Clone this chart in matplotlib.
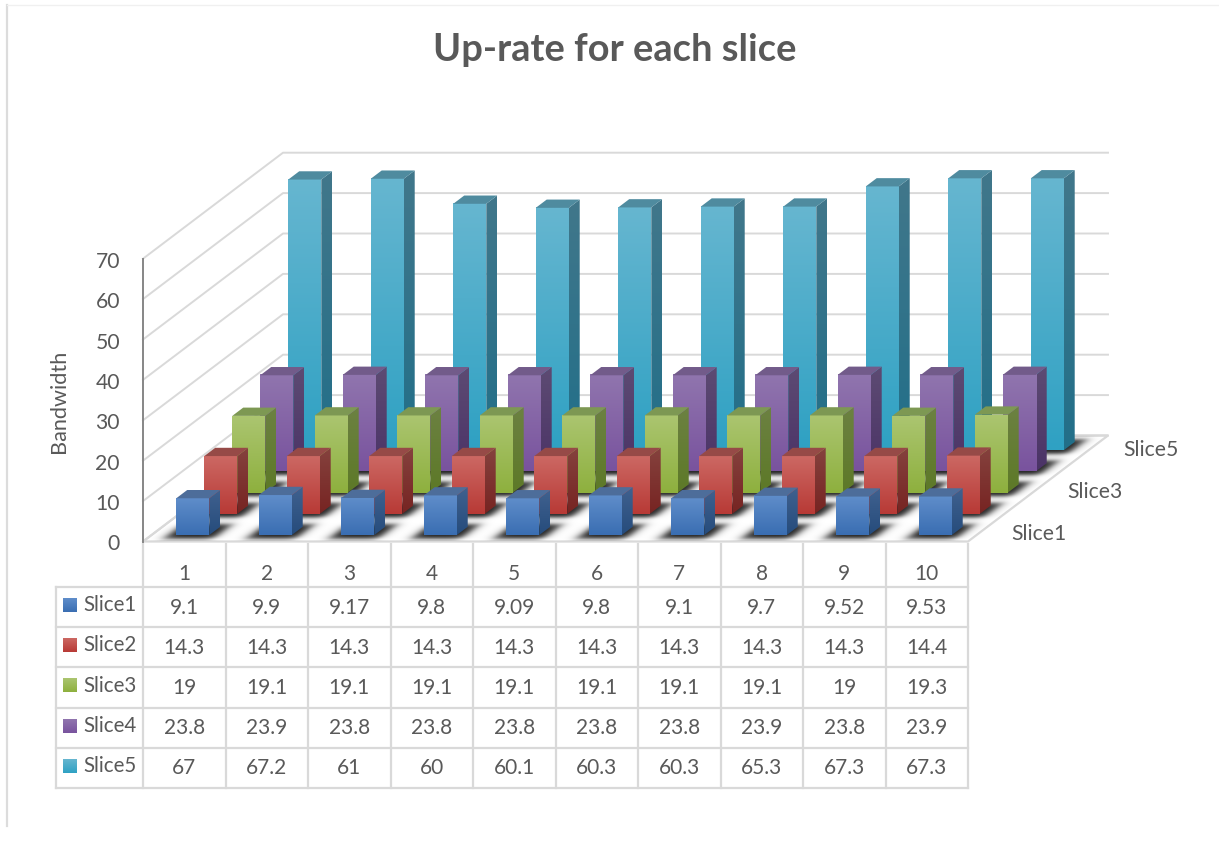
import matplotlib
matplotlib.use('Agg')
import matplotlib.pyplot as plt
from matplotlib.colors import to_rgb
from matplotlib.patches import Polygon
import numpy as np

plt.rcParams['font.family'] = ['Lato', 'DejaVu Sans']

columns = [1, 2, 3, 4, 5, 6, 7, 8, 9, 10]
slice1 = [9.1, 9.9, 9.17, 9.8, 9.09, 9.8, 9.1, 9.7, 9.52, 9.53]
slice2 = [14.3, 14.3, 14.3, 14.3, 14.3, 14.3, 14.3, 14.3, 14.3, 14.4]
slice3 = [19, 19.1, 19.1, 19.1, 19.1, 19.1, 19.1, 19.1, 19, 19.3]
slice4 = [23.8, 23.9, 23.8, 23.8, 23.8, 23.8, 23.8, 23.9, 23.8, 23.9]
slice5 = [67, 67.2, 61, 60, 60.1, 60.3, 60.3, 65.3, 67.3, 67.3]
series_names = ['Slice1', 'Slice2', 'Slice3', 'Slice4', 'Slice5']
series_values = [slice1, slice2, slice3, slice4, slice5]
y_ticks = [0, 10, 20, 30, 40, 50, 60, 70]

# colours per series: front top/bottom, side top/bottom, cap
styles = [
    ('#5f8dca', '#3a6eb2', '#40618f', '#264c7c', '#4d6d9a'),
    ('#cc6863', '#b83a36', '#85423e', '#772422', '#964a47'),
    ('#abc570', '#8eb03e', '#6c8142', '#5d7927', '#7d9853'),
    ('#9075ae', '#79539e', '#5d4b73', '#4b3367', '#725b8a'),
    ('#66b6d0', '#2fa1c3', '#41778b', '#226f89', '#4f8b9f'),
]

# oblique projection of the 3D box onto the page
ORIGIN_X, ORIGIN_Y = 143.0, 541.5
COL_W = 82.5
DEPTH_X, DEPTH_Y = 140.0, -106.0
UNIT_H = 4.04
BAR_W = 0.4
BAR_D = 0.39
TEXT = '#595959'
GRID = '#d9d9d9'


def project(col, row, value=0.0):
    # col and row are in category units, row counted from the front
    x = ORIGIN_X + col * COL_W + row / 5 * DEPTH_X
    y = ORIGIN_Y + row / 5 * DEPTH_Y - value * UNIT_H
    return x, y


def gradient(ax, top, bottom, x0, x1, y0, y1, clip=None):
    # vertical colour ramp, optionally clipped to a polygon
    t = np.linspace(0, 1, 64)[:, None, None]
    rgb = (1 - t) * np.array(to_rgb(top)) + t * np.array(to_rgb(bottom))
    im = ax.imshow(rgb, extent=(x0, x1, y1, y0), aspect='auto',
                   interpolation='bilinear', zorder=3)
    if clip is not None:
        patch = Polygon(clip, closed=True, transform=ax.transData)
        im.set_clip_path(patch)
    return im


def draw_bar(ax, col, row, value, style, z):
    front_top, front_bot, side_top, side_bot, cap = style
    c0 = col + (1 - BAR_W) / 2
    c1 = c0 + BAR_W
    r0 = row + (1 - BAR_D) / 2
    r1 = r0 + BAR_D
    x0, y_base = project(c0, r0)
    x1, y_top = project(c1, r0, value)
    x2, y_base2 = project(c1, r1)
    _, y_top2 = project(c1, r1, value)
    side = [(x1, y_base), (x1, y_top), (x2, y_top2), (x2, y_base2)]
    gradient(ax, side_top, side_bot, x1, x2, y_top2, y_base, clip=side).set_zorder(z)
    gradient(ax, front_top, front_bot, x0, x1, y_top, y_base).set_zorder(z)
    top = [project(c0, r0, value), project(c1, r0, value),
           project(c1, r1, value), project(c0, r1, value)]
    ax.add_patch(Polygon(top, closed=True, facecolor=cap, edgecolor='none', zorder=z))


def soft_box(u, lo, hi, soft):
    return 0.5 * (np.tanh((u - lo) / soft) - np.tanh((u - hi) / soft))


def draw_shadows(ax, n_col, n_row, floor_clip):
    # soft shadow of every bar, evaluated on the floor in category units
    x0, x1 = ORIGIN_X, ORIGIN_X + n_col * COL_W + DEPTH_X
    y1, y0 = ORIGIN_Y, ORIGIN_Y + DEPTH_Y
    xs = np.arange(x0, x1, 1.0)
    ys = np.arange(y0, y1, 1.0)
    xx, yy = np.meshgrid(xs, ys)
    rows = (yy - ORIGIN_Y) / DEPTH_Y * 5
    cols = (xx - ORIGIN_X - rows / 5 * DEPTH_X) / COL_W
    light = np.ones_like(xx)
    for row in range(n_row):
        across = soft_box(rows, row + (1 - BAR_D) / 2 - 0.17, row + (1 + BAR_D) / 2 + 0.12, 0.12)
        for col in range(n_col):
            along = soft_box(cols, col + (1 - BAR_W) / 2 - 0.1, col + (1 + BAR_W) / 2 + 0.1, 0.08)
            light *= 1 - 0.88 * along * across
    rgba = np.zeros(xx.shape + (4,))
    rgba[..., 3] = 1 - light
    im = ax.imshow(rgba, extent=(x0, x1, y1, y0), aspect='auto',
                   interpolation='bilinear', zorder=1.5)
    im.set_clip_path(floor_clip)


fig = plt.figure(figsize=(12.19, 8.41), dpi=100)
ax = fig.add_axes([0, 0, 1, 1])

n_col = len(columns)
n_row = len(series_names)

# outer frame of the chart area
ax.plot([7, 7], [5, 826], color='#dcdcdc', lw=1.6, zorder=1)
ax.plot([7, 1219], [5, 5], color='#f0f0f0', lw=1.0, zorder=1)

# floor
floor = [project(0, 0), project(n_col, 0), project(n_col, n_row), project(0, n_row)]
floor_patch = Polygon(floor, closed=True, facecolor='white', edgecolor=GRID, lw=1.6, zorder=1)
ax.add_patch(floor_patch)

# walls and gridlines
for v in y_ticks:
    xs = [project(0, 0, v)[0], project(0, n_row, v)[0], project(n_col, n_row, v)[0]]
    ys = [project(0, 0, v)[1], project(0, n_row, v)[1], project(n_col, n_row, v)[1]]
    ax.plot(xs, ys, color=GRID, lw=1.4, zorder=1)
    ax.text(ORIGIN_X - 23, project(0, 0, v)[1] + 3, str(v), ha='right', va='center',
            fontsize=15.2, color=TEXT)
ax.plot([ORIGIN_X, ORIGIN_X], [project(0, 0, 0)[1], project(0, 0, y_ticks[-1])[1]],
        color='#868686', lw=1.4, zorder=2)

ax.text(59, 401, 'Bandwidth', rotation=90, ha='center', va='center', fontsize=15.6, color=TEXT)

draw_shadows(ax, n_col, n_row, floor_patch)

# back rows first so nearer bars cover them
for row in reversed(range(n_row)):
    for col in range(n_col):
        draw_bar(ax, col, row, series_values[row][col], styles[row], z=3 + (n_row - row))

# depth axis labels, every second series
for row in [0, 2, 4]:
    x, y = project(n_col, row + 0.5)
    ax.text(x + 29, y + 3.5, series_names[row], ha='left', va='center',
            fontsize=15.2, color=TEXT)

# data table below the floor
table_top = ORIGIN_Y + 2
head_bot = 587.0
row_h = 40.2
left = 56.0
col_x = [ORIGIN_X + i * COL_W for i in range(n_col + 1)]
row_y = [head_bot + i * row_h for i in range(n_row + 1)]
for x in col_x:
    ax.plot([x, x], [table_top, row_y[-1]], color=GRID, lw=1.6, zorder=1)
for y in row_y:
    ax.plot([left, col_x[-1]], [y, y], color=GRID, lw=1.6, zorder=1)
ax.plot([left, left], [head_bot, row_y[-1]], color=GRID, lw=1.6, zorder=1)

for i, c in enumerate(columns):
    ax.text(col_x[i] + COL_W / 2, 573.5, str(c), ha='center', va='center', fontsize=15, color=TEXT)

for r, name in enumerate(series_names):
    mid = (row_y[r] + row_y[r + 1]) / 2
    gradient(ax, styles[r][0], styles[r][1], 63, 77, mid - 9, mid + 5)
    ax.text(83, mid - 2, name, ha='left', va='center', fontsize=14.8, color=TEXT)
    for i, v in enumerate(series_values[r]):
        ax.text(col_x[i] + COL_W / 2, mid + 0.5, str(v), ha='center', va='center',
                fontsize=15, color=TEXT)

ax.text(615, 50, 'Up-rate for each slice', ha='center', va='center', fontsize=27.4,
        fontweight='bold', color=TEXT)

ax.set_xlim(0, 1219)
ax.set_ylim(841, 0)
ax.axis('off')
fig.savefig('out.png', dpi=100)
